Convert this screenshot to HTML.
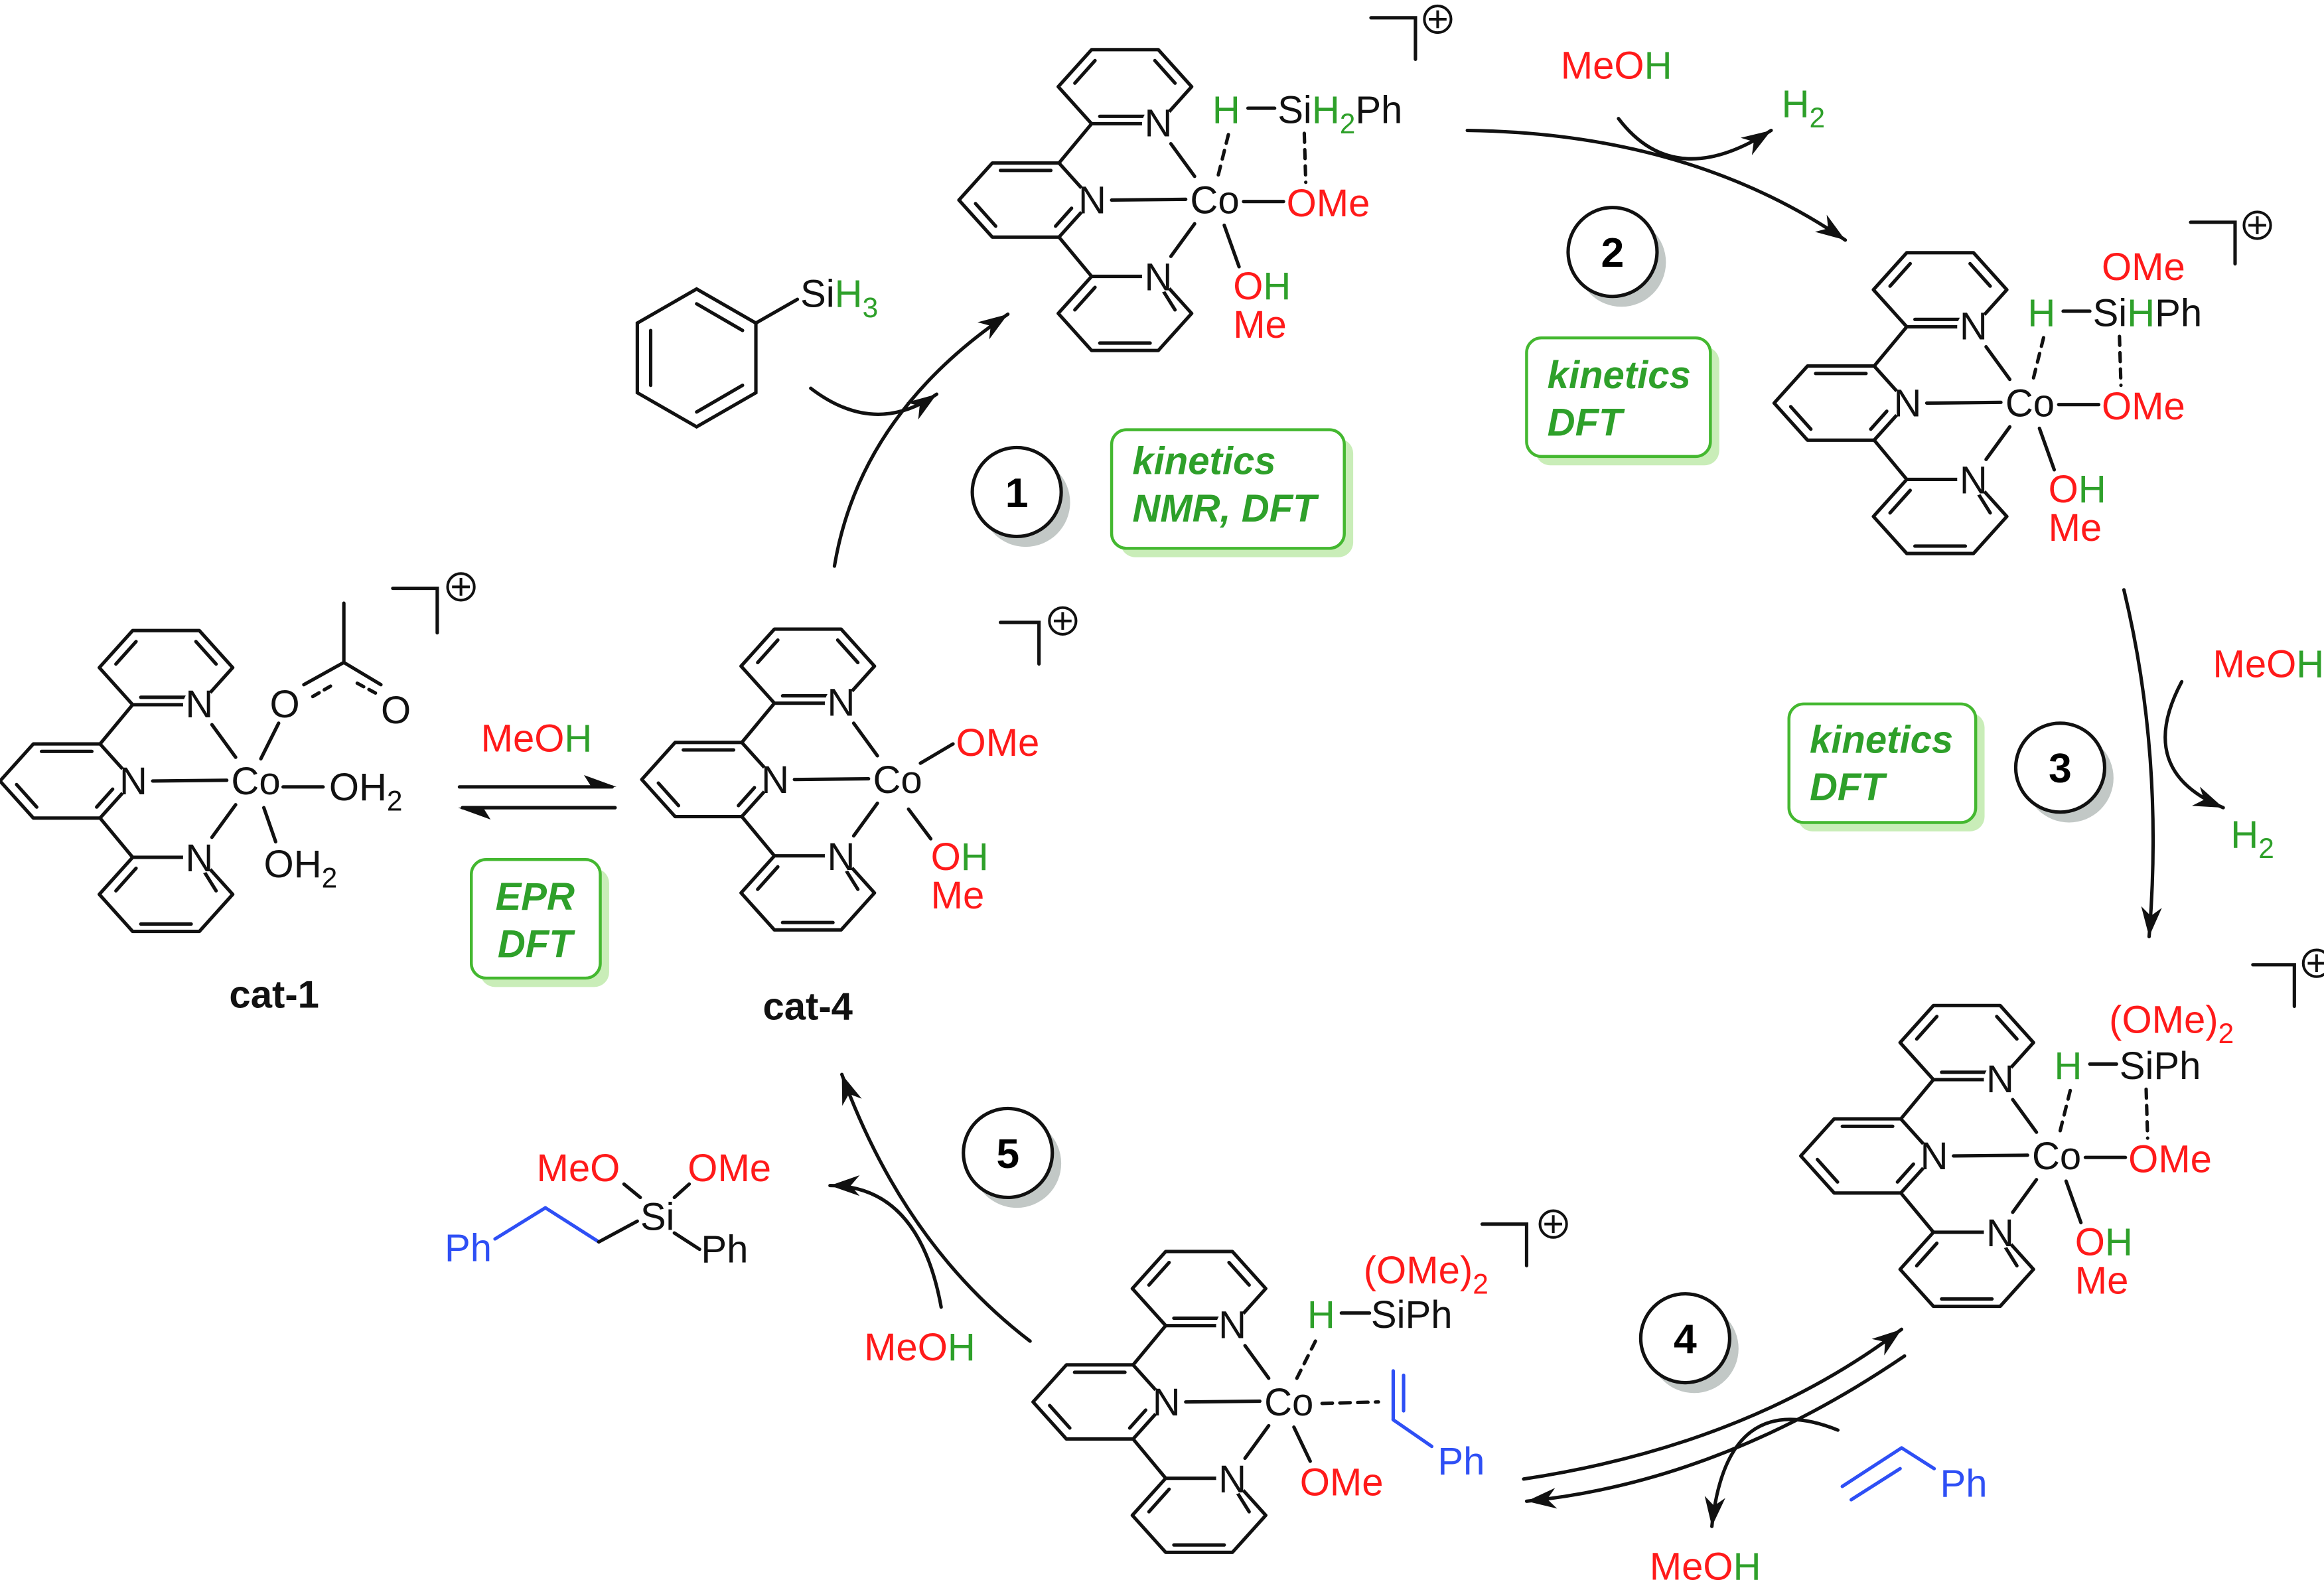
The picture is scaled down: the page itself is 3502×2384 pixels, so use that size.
<!DOCTYPE html>
<html><head><meta charset="utf-8"><style>
html,body{margin:0;padding:0;background:#fff}
svg{display:block}
text{font-family:"Liberation Sans",Arial,sans-serif;font-size:26px}
.r{fill:#ff1a1a}.g{fill:#2ea02a}.b{fill:#2e4ff5}.k{fill:#111}
.bx{font-weight:bold;font-style:italic;fill:#2ea02a;font-size:26px}
.num{font-weight:bold;font-size:28px;text-anchor:middle}
</style></head><body>
<svg width="3502" height="2384" viewBox="0 0 1568 1067.5" preserveAspectRatio="none" xmlns="http://www.w3.org/2000/svg">
<defs>
<marker id="ah" markerUnits="userSpaceOnUse" markerWidth="24" markerHeight="16" refX="20" refY="8" orient="auto">
<path d="M0,1 L20,8 L0,15 L6,8 Z" fill="#111"/>
</marker>
<g id="tp" stroke="#111" stroke-width="2.3" fill="none" stroke-linecap="round" stroke-linejoin="round">
<polygon points="-22.5,-25 22.5,-25 45,0 22.5,25 -22.5,25 -45,0"/>
<polygon points="44.5,-101.5 89.5,-101.5 112,-76.5 89.5,-51.5 44.5,-51.5 22,-76.5"/>
<polygon points="44.5,51.5 89.5,51.5 112,76.5 89.5,101.5 44.5,101.5 22,76.5"/>
<line x1="22.5" y1="-25" x2="44.5" y2="-51.5"/>
<line x1="22.5" y1="25" x2="44.5" y2="51.5"/>
<line x1="33.2" y1="-78.9" x2="46.8" y2="-94.1"/>
<line x1="87.2" y1="-94.1" x2="100.8" y2="-78.9"/>
<line x1="50" y1="-56.5" x2="80" y2="-56.5"/>
<line x1="-17" y1="-20" x2="17" y2="-20"/>
<line x1="-33.8" y1="2.4" x2="-20.2" y2="17.6"/>
<line x1="20.2" y1="17.6" x2="31" y2="5.5"/>
<line x1="33.2" y1="74.1" x2="46.8" y2="58.9"/>
<line x1="92" y1="60" x2="100.8" y2="74.1"/>
<line x1="50" y1="96.5" x2="84" y2="96.5"/>
<line x1="58" y1="0" x2="108" y2="-0.5"/>
<line x1="98" y1="-38" x2="114" y2="-16"/>
<line x1="98" y1="38" x2="114" y2="16"/>
<circle cx="45" cy="0" r="11" fill="#fff" stroke="none"/>
<circle cx="89.5" cy="-51.5" r="11" fill="#fff" stroke="none"/>
<circle cx="89.5" cy="51.5" r="11" fill="#fff" stroke="none"/>
</g>
</defs>

<g stroke="#111" stroke-width="2.3" fill="none" stroke-linecap="round">
<!-- reaction arrows -->
<path d="M563,382 Q580,280 680,212" marker-end="url(#ah)"/>
<path d="M547,262 Q590,295 632,266" marker-end="url(#ah)"/>
<path d="M990,88 Q1140,90 1245,162" marker-end="url(#ah)"/>
<path d="M1092,80 Q1130,130 1195,88" marker-end="url(#ah)"/>
<path d="M1433,398 Q1460,510 1450,632" marker-end="url(#ah)"/>
<path d="M1472,460 Q1440,520 1500,545" marker-end="url(#ah)"/>
<path d="M1028,998 Q1180,975 1283,897" marker-end="url(#ah)"/>
<path d="M1285,915 Q1160,1000 1030,1013" marker-end="url(#ah)"/>
<path d="M1240,965 Q1165,935 1155,1030" marker-end="url(#ah)"/>
<path d="M695,905 Q610,840 568,725" marker-end="url(#ah)"/>
<path d="M635,882 Q620,800 560,800" marker-end="url(#ah)"/>
<line x1="310" y1="531" x2="413" y2="531"/>
<line x1="312" y1="545" x2="415" y2="545"/>
<!-- brackets -->
<polyline points="265,397 295,397 295,427"/>
<polyline points="675,420 701,420 701,448"/>
<polyline points="925,12 955,12 955,40"/>
<polyline points="1478,150 1508,150 1508,178"/>
<polyline points="1520,651 1548,651 1548,679"/>
<polyline points="1000,826 1030,826 1030,854"/>
</g>
<polygon points="416,531 394,523 399,531" fill="#111"/>
<polygon points="309,545 331,553 326,545" fill="#111"/>
<g fill="none" stroke="#111" stroke-width="1.8">
<circle cx="311" cy="396" r="9"/><circle cx="717" cy="419" r="9"/><circle cx="970" cy="13" r="9"/>
<circle cx="1523" cy="152" r="9"/><circle cx="1563" cy="650" r="9"/><circle cx="1048" cy="826" r="9"/>
<path d="M305,396h12M311,390v12M711,419h12M717,413v12M964,13h12M970,7v12M1517,152h12M1523,146v12M1557,650h12M1563,644v12M1042,826h12M1048,820v12"/>
</g>

<!-- terpyridines -->
<use href="#tp" x="45" y="527"/>
<use href="#tp" x="478" y="526"/>
<use href="#tp" x="692" y="135"/>
<use href="#tp" x="1242" y="272"/>
<use href="#tp" x="1260" y="780"/>
<use href="#tp" x="742" y="946"/>
<g class="k" text-anchor="middle">
<text x="90" y="536">N</text><text x="134.5" y="484">N</text><text x="134.5" y="588">N</text>
<text x="523" y="535">N</text><text x="567.5" y="483">N</text><text x="567.5" y="587">N</text>
<text x="737" y="144">N</text><text x="781.5" y="92">N</text><text x="781.5" y="196">N</text>
<text x="1287" y="281">N</text><text x="1331.5" y="229">N</text><text x="1331.5" y="333">N</text>
<text x="1305" y="789">N</text><text x="1349.5" y="737">N</text><text x="1349.5" y="841">N</text>
<text x="787" y="955">N</text><text x="831.5" y="903">N</text><text x="831.5" y="1007">N</text>
</g>
<g class="k">
<text x="156" y="536">Co</text><text x="589" y="535">Co</text><text x="803" y="144">Co</text>
<text x="1353" y="281">Co</text><text x="1371" y="789">Co</text><text x="853" y="955">Co</text>
</g>

<!-- cat-1 ligands -->
<g stroke="#111" stroke-width="2.3" fill="none" stroke-linecap="round">
<line x1="176" y1="512" x2="188" y2="488"/>
<line x1="205" y1="462" x2="232" y2="447"/>
<line x1="232" y1="447" x2="257" y2="462"/>
<line x1="232" y1="447" x2="232" y2="407"/>
<line x1="211" y1="470" x2="223" y2="463" stroke-dasharray="5,4"/>
<line x1="241" y1="461" x2="254" y2="468" stroke-dasharray="5,4"/>
<line x1="191" y1="531" x2="218" y2="531"/>
<line x1="178" y1="545" x2="186" y2="568"/>
</g>
<text x="182" y="484" class="k">O</text><text x="257" y="488" class="k">O</text>
<text x="222" y="540" class="k">OH<tspan font-size="19" dy="7">2</tspan></text>
<text x="178" y="592" class="k">OH<tspan font-size="19" dy="7">2</tspan></text>
<text x="185" y="680" class="k" font-weight="bold" font-size="24" text-anchor="middle">cat-1</text>

<!-- cat-4 ligands -->
<g stroke="#111" stroke-width="2.3" stroke-linecap="round">
<line x1="621" y1="515" x2="643" y2="502"/>
<line x1="613" y1="546" x2="628" y2="566"/>
</g>
<text x="645" y="510" class="r">OMe</text>
<text x="628" y="587"><tspan class="r">O</tspan><tspan class="g">H</tspan></text>
<text x="628" y="613" class="r">Me</text>
<text x="545" y="688" class="k" font-weight="bold" font-size="24" text-anchor="middle">cat-4</text>

<!-- equilibrium label -->
<text x="362" y="507" text-anchor="middle"><tspan class="r">MeO</tspan><tspan class="g">H</tspan></text>
<rect x="324" y="586" width="87" height="80" rx="10" fill="#c9edb8"/>
<rect x="318" y="580" width="87" height="80" rx="10" fill="#fff" stroke="#44b830" stroke-width="2"/>
<text x="361" y="614" class="bx" text-anchor="middle">EPR</text>
<text x="361" y="646" class="bx" text-anchor="middle">DFT</text>

<!-- phenylsilane -->
<g stroke="#111" stroke-width="2.3" fill="none" stroke-linecap="round">
<polygon points="470,195 510,218 510,265 470,288 430,265 430,218"/>
<line x1="470" y1="205" x2="501" y2="223"/><line x1="501" y1="260" x2="470" y2="278"/><line x1="439" y1="223" x2="439" y2="260"/>
<line x1="510" y1="218" x2="538" y2="202"/>
</g>
<text x="540" y="207"><tspan class="k">Si</tspan><tspan class="g">H</tspan><tspan class="g" font-size="19" dy="7">3</tspan></text>

<!-- top complex -->
<g stroke="#111" stroke-width="2.3" stroke-linecap="round">
<line x1="842" y1="73" x2="860" y2="73"/>
<line x1="839" y1="136" x2="866" y2="136"/>
<line x1="826" y1="152" x2="836" y2="180"/>
<line x1="822" y1="118" x2="829" y2="90" stroke-dasharray="6,5"/>
<line x1="880" y1="90" x2="881" y2="123" stroke-dasharray="6,5"/>
</g>
<text x="818" y="83" class="g">H</text>
<text x="862" y="83"><tspan class="k">Si</tspan><tspan class="g">H</tspan><tspan class="g" font-size="19" dy="7">2</tspan><tspan class="k" dy="-7">Ph</tspan></text>
<text x="868" y="146" class="r">OMe</text>
<text x="832" y="202"><tspan class="r">O</tspan><tspan class="g">H</tspan></text>
<text x="832" y="228" class="r">Me</text>

<!-- step labels -->
<rect x="756" y="296" width="157" height="80" rx="10" fill="#c9edb8"/>
<rect x="750" y="290" width="157" height="80" rx="10" fill="#fff" stroke="#44b830" stroke-width="2"/>
<text x="764" y="320" class="bx">kinetics</text><text x="764" y="352" class="bx">NMR, DFT</text>
<rect x="1036" y="234" width="124" height="80" rx="10" fill="#c9edb8"/>
<rect x="1030" y="228" width="124" height="80" rx="10" fill="#fff" stroke="#44b830" stroke-width="2"/>
<text x="1044" y="262" class="bx">kinetics</text><text x="1044" y="294" class="bx">DFT</text>
<rect x="1213" y="481" width="126" height="80" rx="10" fill="#c9edb8"/>
<rect x="1207" y="475" width="126" height="80" rx="10" fill="#fff" stroke="#44b830" stroke-width="2"/>
<text x="1221" y="508" class="bx">kinetics</text><text x="1221" y="540" class="bx">DFT</text>

<g>
<circle cx="692" cy="339" r="30" fill="#c2c8c6"/><circle cx="686" cy="332" r="30" fill="#fff" stroke="#111" stroke-width="2.3"/><text x="686" y="342" class="num">1</text>
<circle cx="1094" cy="177" r="30" fill="#c2c8c6"/><circle cx="1088" cy="170" r="30" fill="#fff" stroke="#111" stroke-width="2.3"/><text x="1088" y="180" class="num">2</text>
<circle cx="1396" cy="525" r="30" fill="#c2c8c6"/><circle cx="1390" cy="518" r="30" fill="#fff" stroke="#111" stroke-width="2.3"/><text x="1390" y="528" class="num">3</text>
<circle cx="1143" cy="910" r="30" fill="#c2c8c6"/><circle cx="1137" cy="903" r="30" fill="#fff" stroke="#111" stroke-width="2.3"/><text x="1137" y="913" class="num">4</text>
<circle cx="686" cy="785" r="30" fill="#c2c8c6"/><circle cx="680" cy="778" r="30" fill="#fff" stroke="#111" stroke-width="2.3"/><text x="680" y="788" class="num">5</text>
</g>

<!-- reagent labels -->
<text x="1053" y="53"><tspan class="r">MeO</tspan><tspan class="g">H</tspan></text>
<text x="1202" y="79" class="g">H<tspan font-size="19" dy="7">2</tspan></text>
<text x="1493" y="457"><tspan class="r">MeO</tspan><tspan class="g">H</tspan></text>
<text x="1505" y="572" class="g">H<tspan font-size="19" dy="7">2</tspan></text>
<text x="1113" y="1066"><tspan class="r">MeO</tspan><tspan class="g">H</tspan></text>
<text x="583" y="918"><tspan class="r">MeO</tspan><tspan class="g">H</tspan></text>

<!-- right upper complex -->
<g stroke="#111" stroke-width="2.3" stroke-linecap="round">
<line x1="1392" y1="210" x2="1410" y2="210"/>
<line x1="1389" y1="273" x2="1416" y2="273"/>
<line x1="1376" y1="289" x2="1386" y2="317"/>
<line x1="1372" y1="255" x2="1379" y2="227" stroke-dasharray="6,5"/>
<line x1="1430" y1="227" x2="1431" y2="260" stroke-dasharray="6,5"/>
</g>
<text x="1418" y="189" class="r">OMe</text>
<text x="1368" y="220" class="g">H</text>
<text x="1412" y="220"><tspan class="k">Si</tspan><tspan class="g">H</tspan><tspan class="k">Ph</tspan></text>
<text x="1418" y="283" class="r">OMe</text>
<text x="1382" y="339"><tspan class="r">O</tspan><tspan class="g">H</tspan></text>
<text x="1382" y="365" class="r">Me</text>

<!-- right lower complex -->
<g stroke="#111" stroke-width="2.3" stroke-linecap="round">
<line x1="1410" y1="718" x2="1428" y2="718"/>
<line x1="1407" y1="781" x2="1434" y2="781"/>
<line x1="1394" y1="797" x2="1404" y2="825"/>
<line x1="1390" y1="763" x2="1397" y2="735" stroke-dasharray="6,5"/>
<line x1="1448" y1="735" x2="1449" y2="768" stroke-dasharray="6,5"/>
</g>
<text x="1423" y="697" class="r">(OMe)<tspan font-size="19" dy="7">2</tspan></text>
<text x="1386" y="728" class="g">H</text>
<text x="1430" y="728" class="k">SiPh</text>
<text x="1436" y="791" class="r">OMe</text>
<text x="1400" y="847"><tspan class="r">O</tspan><tspan class="g">H</tspan></text>
<text x="1400" y="873" class="r">Me</text>

<!-- bottom complex -->
<g stroke="#111" stroke-width="2.3" stroke-linecap="round">
<line x1="905" y1="886" x2="924" y2="886"/>
<line x1="873" y1="963" x2="884" y2="986"/>
<line x1="875" y1="930" x2="889" y2="902" stroke-dasharray="6,5"/>
<line x1="892" y1="947" x2="930" y2="946" stroke-dasharray="7,5"/>
</g>
<g stroke="#2e4ff5" stroke-width="2.3" stroke-linecap="round">
<line x1="940" y1="925" x2="940" y2="958"/>
<line x1="947" y1="928" x2="947" y2="952"/>
<line x1="940" y1="958" x2="966" y2="976"/>
</g>
<text x="882" y="896" class="g">H</text>
<text x="925" y="896" class="k">SiPh</text>
<text x="920" y="866" class="r">(OMe)<tspan font-size="19" dy="7">2</tspan></text>
<text x="877" y="1009" class="r">OMe</text>
<text x="970" y="995" class="b">Ph</text>

<!-- styrene reagent -->
<g stroke="#2e4ff5" stroke-width="2.3" stroke-linecap="round">
<line x1="1243" y1="1003" x2="1283" y2="977"/>
<line x1="1249" y1="1012" x2="1282" y2="991"/>
<line x1="1283" y1="977" x2="1305" y2="991"/>
</g>
<text x="1309" y="1010" class="b">Ph</text>

<!-- product -->
<g stroke="#2e4ff5" stroke-width="2.3" stroke-linecap="round">
<line x1="334" y1="836" x2="368" y2="815"/><line x1="368" y1="815" x2="404" y2="838"/>
</g>
<g stroke="#111" stroke-width="2.3" stroke-linecap="round">
<line x1="404" y1="838" x2="430" y2="824"/>
<line x1="432" y1="808" x2="421" y2="799"/>
<line x1="455" y1="808" x2="465" y2="799"/>
<line x1="455" y1="832" x2="472" y2="843"/>
</g>
<text x="432" y="830" class="k">Si</text>
<text x="362" y="797" class="r">MeO</text>
<text x="464" y="797" class="r">OMe</text>
<text x="300" y="851" class="b">Ph</text>
<text x="473" y="852" class="k">Ph</text>
</svg>
</body></html>
